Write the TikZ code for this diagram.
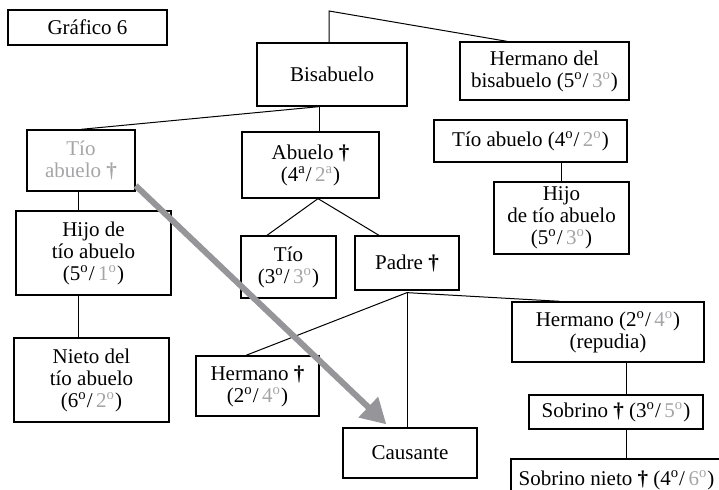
\documentclass[tikz,border=0pt]{standalone}
\usepackage{fontspec}
\setmainfont{Liberation Serif}
\usepackage{xcolor}
\usepackage{tikz}
\usetikzlibrary{arrows.meta}
\definecolor{soft}{RGB}{165, 165, 168}
\definecolor{heirgray}{RGB}{150, 150, 154}
\newcommand{\ord}[1]{#1\textsuperscript{o}}
\newcommand{\gord}[1]{\textcolor{soft}{#1\textsuperscript{o}}}
\newcommand{\dg}{\textbf{†}}

\begin{document}
\begin{tikzpicture}[x=0.5pt, y=-0.5pt]
        % Styles
        \tikzset{box/.style={rectangle, draw, line width=0.65pt, align=center, inner sep=0pt, font=\fontsize{10.5}{11}\selectfont}}
        \tikzset{link/.style={line width=0.5pt}}
        \tikzset{heir/.style={draw=heirgray, line width=3pt, -{Triangle[length=12.5pt, width=13.5pt]}}}

        \useasboundingbox (0,0) rectangle (719,490);

        % Title
        \node[box, minimum width=79.5pt, minimum height=17.5pt] (grafico) at (87.5,27.5) {Gráfico 6};

        % Top generation
        \node[box, minimum width=75pt, minimum height=31.5pt] (bisabuelo) at (332,74.5) {Bisabuelo};
        \node[box, minimum width=84.5pt, minimum height=29pt] (hermanobis) at (544.5,71) {Hermano del\\bisabuelo (\ord{5}/\,\gord{3})};

        % Right branch
        \node[box, minimum width=96.5pt, minimum height=21pt] (tioabueloder) at (530.5,141) {Tío abuelo (\ord{4}/\,\gord{2})};
        \node[box, minimum width=67.5pt, minimum height=36pt] (hijotioder) at (561.5,218) {Hijo\\de tío abuelo\\(\ord{5}/\,\gord{3})};

        % Left branch
        \node[box, text=soft, minimum width=54pt, minimum height=30.5pt] (tioabuelo) at (81,160.5) {Tío\\abuelo \dg};
        \node[box, minimum width=77.5pt, minimum height=42pt] (hijotio) at (93.5,253) {Hijo de\\tío abuelo\\(\ord{5}/\,\gord{1})};
        \node[box, minimum width=77.5pt, minimum height=42pt] (nieto) at (91.5,380) {Nieto del\\tío abuelo\\(\ord{6}/\,\gord{2})};

        % Middle branch
        \node[box, minimum width=68.5pt, minimum height=33pt] (abuelo) at (310.5,165) {Abuelo \dg\\(4\textsuperscript{a}/\,\textcolor{soft}{2\textsuperscript{a}})};
        \node[box, minimum width=47.5pt, minimum height=31pt] (tio) at (288.5,267) {Tío\\(\ord{3}/\,\gord{3})};
        \node[box, minimum width=52pt, minimum height=27pt] (padre) at (407,263) {Padre \dg};
        \node[box, minimum width=61.5pt, minimum height=30pt] (hermano) at (257.5,386) {Hermano \dg\\(\ord{2}/\,\gord{4})};
        \node[box, minimum width=67pt, minimum height=25pt] (causante) at (410,453) {Causante};
        \node[box, minimum width=96pt, minimum height=30pt] (hermanorep) at (608,332) {Hermano (\ord{2}/\,\gord{4})\\(repudia)};
        \node[box, minimum width=87pt, minimum height=17pt] (sobrino) at (616,412) {Sobrino \dg\ (\ord{3}/\,\gord{5})};
        \node[box, minimum width=105.5pt, minimum height=21pt] (sobrinonieto) at (616.5,480) {Sobrino nieto \dg\ (\ord{4}/\,\gord{6})};

        % Junctions
        \coordinate (apex) at (329,11);
        \coordinate (bsj) at ([xshift=-6.5pt]bisabuelo.south);
        \coordinate (abj) at ([xshift=3.75pt]abuelo.south);
        \coordinate (lc) at ([xshift=-1.5pt]tioabuelo.south);
        \coordinate (pj) at ([yshift=-1pt]padre.south);
        \coordinate (rc) at ([xshift=9pt]hermanorep.south);

        % Connections
        \draw[link] (bisabuelo.north -| apex) -- (apex) -- ([xshift=-18.75pt]hermanobis.north);
        \draw[link] (bsj) -- (tioabuelo.north);
        \draw[link] (bsj) -- (bsj |- abuelo.north);
        \draw[link] ([xshift=-10.75pt]tio.north) -- (abj) -- ([xshift=-14pt]padre.north);
        \draw[link] (lc) -- (lc |- hijotio.north);
        \draw[link] (lc |- hijotio.south) -- (lc |- nieto.north);
        \draw[link] (hijotioder.north |- tioabueloder.south) -- (hijotioder.north);
        \draw[link] (pj) -- ([xshift=-5.75pt]hermano.north);
        \draw[link] (pj) -- (pj |- causante.north);
        \draw[link] (pj) -- ([xshift=-24pt]hermanorep.north);
        \draw[link] (rc) -- (rc |- sobrino.north);
        \draw[link] (rc |- sobrino.south) -- (rc |- sobrinonieto.north);

        % Heir arrow
        \draw[heir] ([yshift=3pt]tioabuelo.south east) -- ([xshift=22pt, yshift=1.5pt]causante.north west);
    \end{tikzpicture}
\end{document}
